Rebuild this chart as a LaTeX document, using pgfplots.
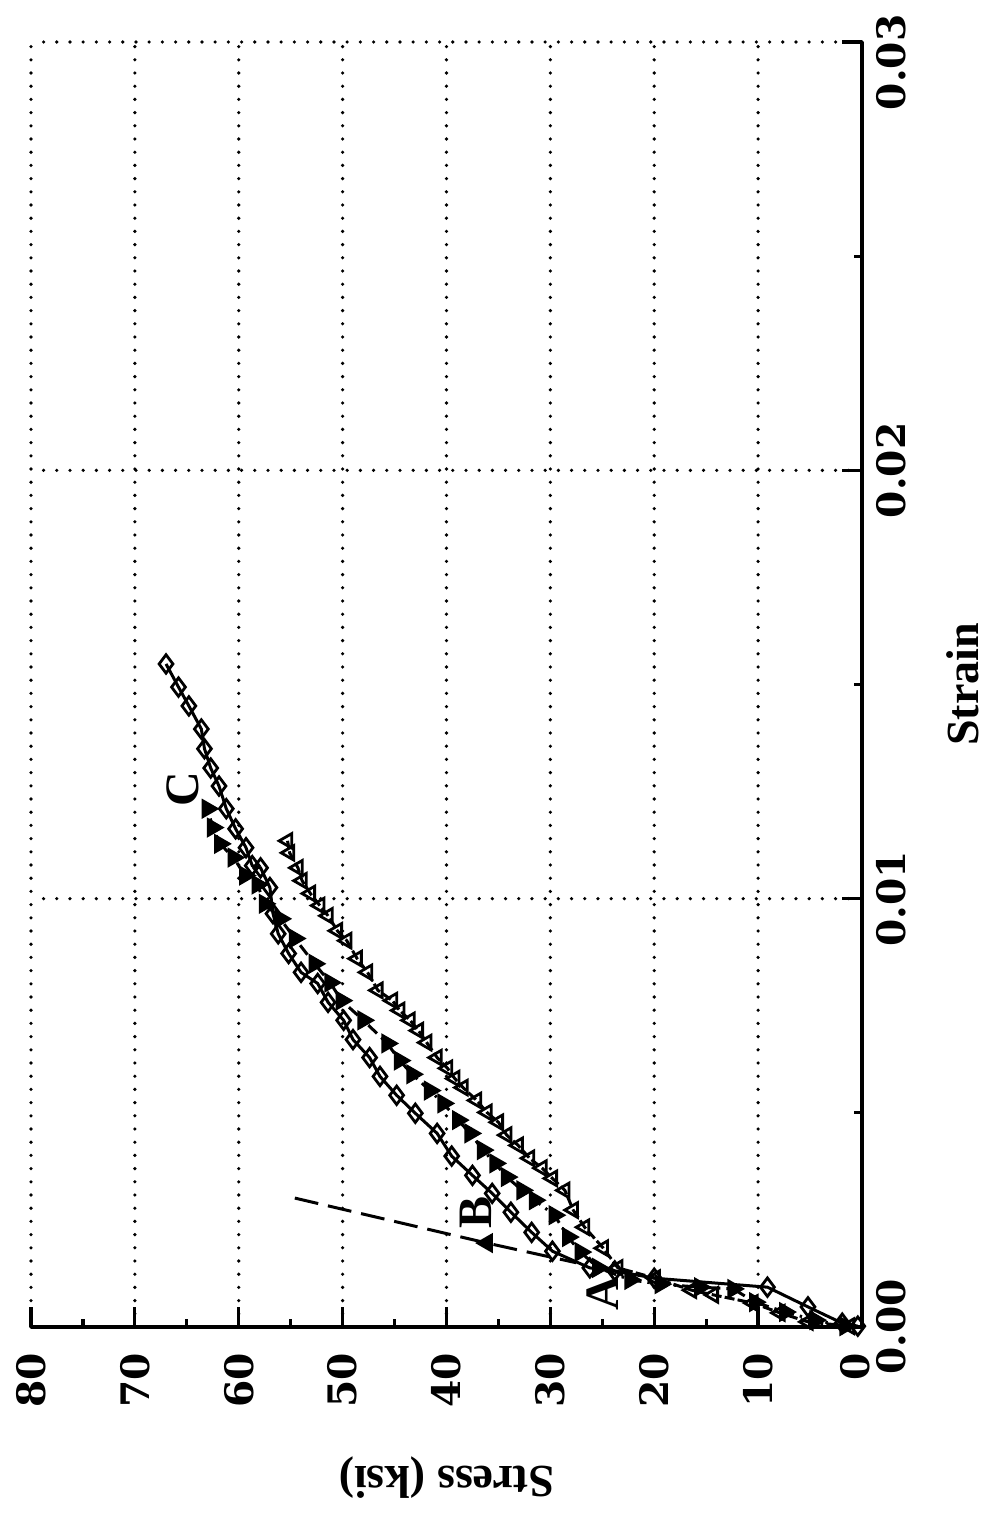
\documentclass[border=0pt]{standalone}
\usepackage{pgfplots}
\pgfplotsset{compat=1.18}
\usepackage{fontspec}
\setmainfont{DejaVu Serif}
\newfontfamily\labelfont{Liberation Serif}

\begin{document}
\begin{tikzpicture}
% page of 987 x 1522 px at 0.25pt per px, axis centre at (446.5,684.5) px
\useasboundingbox (-111.625pt,-209.375pt) rectangle (135.125pt,171.125pt);
\begin{axis}[
    at={(0,0)}, anchor=center,
    scale only axis,
    width=207.75pt, height=321.25pt,
    x dir=reverse,
    xmin=0, xmax=80, ymin=0, ymax=0.03,
    axis x line=bottom, axis y line=right,
    axis line style={-, line width=1pt},
    clip=false,
    xtick={0,10,...,80},
    xticklabels={\raisebox{3.5pt}{0},10,20,30,40,50,60,70,80},
    minor x tick num=1,
    ytick={0,0.01,0.02,0.03},
    yticklabels={0.00,0.01,0.02,0.03\phantom{0.}},
    minor y tick num=1,
    scaled y ticks=false,
    tick align=inside,
    major tick length=5pt, minor tick length=2pt,
    tick style={black, line width=0.8pt},
    grid=major,
    grid style={black, line width=0.9pt, dash pattern=on 0pt off 3.3pt, line cap=round},
    /pgf/number format/assume math mode=true,
    ticklabel style={font=\fontsize{9.8}{12}\selectfont\bfseries},
    xticklabel style={rotate=90, anchor=east},
    yticklabel style={rotate=90, anchor=north},
    xticklabel shift=3pt,
    xlabel={Stress (ksi)},
    ylabel={Strain},
    xlabel style={font=\labelfont\fontsize{11.5}{13}\selectfont\bfseries, at={(axis description cs:0.5,-0.117)}, anchor=center, rotate=180},
    ylabel style={font=\labelfont\fontsize{11.5}{13}\selectfont\bfseries, at={(axis description cs:1.1215,0.5)}, anchor=center},
]

% diamonds, solid
\addplot[black, line width=0.75pt, mark=diamond, mark size=2.3pt, mark options={solid, fill=white, line width=0.7pt}] coordinates {
(0.4,0.00002) (1.9,0.00009) (5.2,0.00047) (9.1,0.00093) (20.0,0.00114) (23.8,0.00131)
(26.2,0.00138) (29.8,0.00177) (31.8,0.00221) (33.8,0.00268) (35.6,0.00312) (37.5,0.00354)
(39.5,0.00399) (40.9,0.00452) (43.0,0.00499) (44.8,0.00541) (46.4,0.00585) (47.4,0.00629)
(49.0,0.00671) (49.9,0.00716) (51.4,0.00758) (52.4,0.00802) (54.0,0.00828) (55.2,0.00872)
(56.2,0.00918) (56.7,0.00965) (57.0,0.01026) (57.9,0.01072) (58.7,0.01077) (59.3,0.01119)
(60.3,0.01163) (61.2,0.01210) (61.9,0.01263) (62.7,0.01305) (63.3,0.01350) (63.6,0.01396)
(64.8,0.01450) (65.8,0.01494) (67.0,0.01548)
};

% filled triangles, dash-dot
\addplot[black, line width=0.75pt, dash pattern=on 3pt off 1.5pt on 0.6pt off 1.5pt, mark=triangle*, mark size=2.2pt, mark options={solid, rotate=-90}] coordinates {
(1.6,0.00002) (4.5,0.00016) (7.4,0.00035) (10.3,0.00058) (12.4,0.00089) (15.6,0.00093)
(19.4,0.00100) (22.3,0.00110) (25.4,0.00138) (27.1,0.00175) (28.3,0.00210) (29.6,0.00261)
(31.5,0.00296) (32.7,0.00319) (34.2,0.00350) (35.3,0.00382) (36.5,0.00413) (37.7,0.00452)
(38.9,0.00483) (40.3,0.00522) (41.6,0.00552) (43.3,0.00590) (44.5,0.00622) (45.7,0.00662)
(48.0,0.00716) (50.1,0.00762) (51.2,0.00804) (52.7,0.00848) (54.6,0.00907) (56.0,0.00953)
(57.5,0.00988) (58.2,0.01033) (59.4,0.01054) (60.5,0.01096) (61.8,0.01128) (62.5,0.01166)
(63.0,0.01210)
};

% open triangles
\addplot[black, line width=0.75pt, dash pattern=on 2.5pt off 0.8pt, mark=triangle, mark size=2.1pt, mark options={solid, rotate=90, fill=white, line width=0.7pt}] coordinates {
(1.2,0.00002) (5.2,0.00012) (7.9,0.00033) (10.5,0.00056) (14.3,0.00075) (16.4,0.00086)
(19.9,0.00114) (23.5,0.00138) (24.9,0.00184) (26.7,0.00233) (27.8,0.00273) (28.6,0.00319)
(29.8,0.00347) (30.8,0.00371) (32.0,0.00394) (33.1,0.00424) (34.2,0.00448) (35.0,0.00478)
(36.1,0.00501) (37.1,0.00529) (38.4,0.00559) (39.2,0.00580) (39.9,0.00604) (40.9,0.00629)
(41.9,0.00664) (42.7,0.00692) (43.5,0.00716) (44.5,0.00739) (45.2,0.00762) (46.6,0.00786)
(47.6,0.00828) (48.6,0.00860) (49.6,0.00902) (50.5,0.00925) (51.4,0.00960) (52.2,0.00984)
(53.1,0.01012) (53.9,0.01042) (54.3,0.01072) (55.1,0.01107) (55.3,0.01135)
};

% elastic line, long dashes
\addplot[black, line width=0.75pt, dash pattern=on 6pt off 2.5pt, mark=triangle*, mark indices={2}, mark size=2.2pt, mark options={solid, rotate=90}] coordinates {
(54.6,0.00301) (36.1,0.00196) (27.5,0.00150)
};

\node[font=\labelfont\fontsize{12}{13}\selectfont\bfseries, rotate=90] at (axis cs:25.0,0.00080) {A};
\node[font=\labelfont\fontsize{12}{13}\selectfont\bfseries, rotate=90] at (axis cs:37.2,0.00268) {B};
\node[font=\labelfont\fontsize{12}{13}\selectfont\bfseries, rotate=90] at (axis cs:65.4,0.01256) {C};
\end{axis}
\end{tikzpicture}
\end{document}
